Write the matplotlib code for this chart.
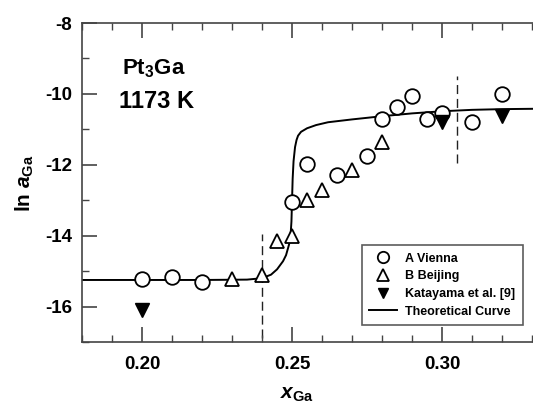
import matplotlib
matplotlib.use("Agg")
import matplotlib.pyplot as plt
from matplotlib.ticker import MultipleLocator

plt.rcParams['font.family'] = ['Liberation Sans', 'DejaVu Sans']
plt.rcParams['mathtext.fontset'] = 'custom'
plt.rcParams['mathtext.rm'] = 'Liberation Sans:bold'
plt.rcParams['mathtext.it'] = 'Liberation Sans:bold:italic'
plt.rcParams['mathtext.bf'] = 'Liberation Sans:bold'

# Data
vienna_x = [0.20, 0.21, 0.22, 0.25, 0.255, 0.265, 0.275, 0.28, 0.285, 0.29, 0.295, 0.30, 0.31, 0.32]
vienna_y = [-15.23, -15.18, -15.30, -13.05, -11.97, -12.30, -11.76, -10.72, -10.38, -10.07, -10.70, -10.55, -10.80, -10.00]

beijing_x = [0.23, 0.24, 0.245, 0.25, 0.255, 0.26, 0.27, 0.28]
beijing_y = [-15.22, -15.10, -14.15, -14.00, -13.00, -12.70, -12.15, -11.35]

katayama_x = [0.20, 0.30, 0.32]
katayama_y = [-16.10, -10.80, -10.63]

curve_x = [0.18, 0.20, 0.22, 0.235, 0.24, 0.243, 0.245, 0.247, 0.248, 0.249, 0.2495, 0.2498,
           0.25, 0.2502, 0.2505, 0.251, 0.2515, 0.252, 0.253, 0.255, 0.258, 0.262, 0.27,
           0.28, 0.29, 0.30, 0.31, 0.32, 0.331]
curve_y = [-15.25, -15.25, -15.25, -15.24, -15.20, -15.10, -14.95, -14.72, -14.55, -14.25, -14.00, -13.60,
           -13.00, -12.40, -11.90, -11.50, -11.30, -11.18, -11.07, -10.97, -10.88, -10.80, -10.72,
           -10.63, -10.55, -10.49, -10.45, -10.43, -10.42]

boundary_x = [0.24, 0.305]
boundary_ymin = [-16.9, -11.95]
boundary_ymax = [-13.95, -9.50]

x_ticks = [0.20, 0.25, 0.30]
x_ticklabels = ['0.20', '0.25', '0.30']
y_ticks = [-16, -14, -12, -10, -8]
y_ticklabels = ['-16', '-14', '-12', '-10', '-8']

fig = plt.figure(figsize=(5.33, 4.05), dpi=100)
ax = fig.add_axes([82/533, 1-342/405, 1-82/533, (342-23)/405])

spine_c = '#444444'
for s in ['left', 'bottom', 'top']:
    ax.spines[s].set_color(spine_c)
    ax.spines[s].set_linewidth(1.2)
ax.spines['right'].set_visible(False)

ax.plot(curve_x, curve_y, color='black', lw=1.4, label='Theoretical Curve', zorder=2)
ax.plot(vienna_x, vienna_y, linestyle='none', marker='o', ms=10.5, mfc='white', mec='black',
        mew=1.3, label='A Vienna', zorder=3)
ax.plot(beijing_x, beijing_y, linestyle='none', marker='^', ms=10.5, mfc='white', mec='black',
        mew=1.3, label='B Beijing', zorder=3)
ax.plot(katayama_x, katayama_y, linestyle='none', marker='v', ms=10, mfc='black', mec='black',
        mew=1.0, label='Katayama et al. [9]', zorder=3)

for bx, y0, y1 in zip(boundary_x, boundary_ymin, boundary_ymax):
    ax.plot([bx, bx], [y0, y1], color='#222222', lw=1.0, dashes=(6.5, 3.5), zorder=1)

ax.set_xlim(0.18, 0.3303)
ax.set_ylim(-17, -8)
ax.set_xticks(x_ticks)
ax.set_xticklabels(x_ticklabels)
ax.set_yticks(y_ticks)
ax.set_yticklabels(y_ticklabels)
ax.xaxis.set_minor_locator(MultipleLocator(0.01))
ax.yaxis.set_minor_locator(MultipleLocator(1))
ax.tick_params(which='both', direction='in', top=True, right=False, color=spine_c)
ax.tick_params(which='major', length=11, width=1.2, labelsize=13.5)
ax.tick_params(axis='x', which='major', pad=10)
ax.tick_params(axis='y', which='major', pad=7)
ax.tick_params(which='minor', length=5, width=1.0)
for lbl in ax.get_xticklabels() + ax.get_yticklabels():
    lbl.set_fontweight('bold')

fig.text(25/533, 1-183/405, r'ln $\mathit{a}_{\mathrm{Ga}}$', rotation=90, ha='center', va='center',
         fontsize=15, fontweight='bold')
fig.text(297/533, 1-399/405, r'$\mathit{x}_{\mathrm{Ga}}$', ha='center', va='baseline', fontsize=15)

fig.text(154/533, 1-69/405, r'Pt$_{\mathrm{3}}$Ga', ha='center', va='center', fontsize=16, fontweight='bold')
fig.text(157/533, 1-102/405, '1173 K', ha='center', va='center', fontsize=17, fontweight='bold')

handles, labels = ax.get_legend_handles_labels()
order = [1, 2, 3, 0]
leg = ax.legend([handles[i] for i in order], [labels[i] for i in order],
                loc='lower right', bbox_to_anchor=(0.978, 0.053),
                prop={'weight': 'bold', 'size': 9}, frameon=True, fancybox=False,
                edgecolor='#333333', borderpad=0.6, labelspacing=0.45, handlelength=2.2,
                handletextpad=0.7, borderaxespad=0, markerscale=0.78)
leg.get_frame().set_linewidth(1.2)

fig.savefig('out.png', dpi=100)
